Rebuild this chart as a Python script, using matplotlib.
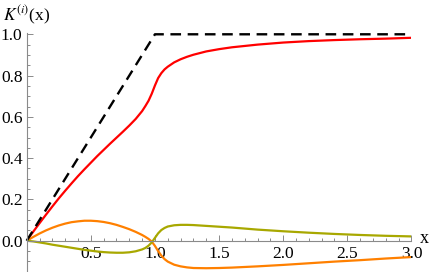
import matplotlib
matplotlib.use('Agg')
import matplotlib.pyplot as plt
from matplotlib.ticker import MultipleLocator, FixedLocator

plt.rcParams['font.family'] = 'Liberation Serif'
plt.rcParams['mathtext.fontset'] = 'stix'

# sample points
xs = [0, 0.05, 0.1, 0.15, 0.2, 0.25, 0.3, 0.35, 0.4, 0.45, 0.5, 0.55, 0.6, 0.65,
      0.7, 0.75, 0.8, 0.85, 0.9, 0.925, 0.95, 0.975, 1.0, 1.025, 1.05, 1.075, 1.1,
      1.15, 1.2, 1.25, 1.3, 1.4, 1.5, 1.6, 1.8, 2.0, 2.2, 2.4, 2.6, 2.8, 3.0]
k_red = [0, 0.043, 0.085, 0.126, 0.166, 0.205, 0.242, 0.278, 0.313, 0.346, 0.378,
         0.41, 0.44, 0.47, 0.499, 0.528, 0.558, 0.59, 0.628, 0.652, 0.678, 0.712,
         0.752, 0.788, 0.812, 0.83, 0.843, 0.864, 0.879, 0.891, 0.901, 0.917, 0.928,
         0.937, 0.95, 0.96, 0.967, 0.972, 0.976, 0.979, 0.983]
k_orange = [0, 0.018, 0.035, 0.05, 0.063, 0.074, 0.083, 0.09, 0.094, 0.097, 0.097,
            0.095, 0.091, 0.085, 0.077, 0.067, 0.056, 0.043, 0.028, 0.019, 0.009,
            -0.004, -0.025, -0.05, -0.072, -0.089, -0.101, -0.116, -0.124, -0.129,
            -0.132, -0.133, -0.132, -0.13, -0.124, -0.117, -0.109, -0.101, -0.094,
            -0.086, -0.079]
k_olive = [0, -0.003, -0.008, -0.013, -0.019, -0.024, -0.029, -0.034, -0.039, -0.044,
           -0.048, -0.052, -0.055, -0.057, -0.058, -0.058, -0.056, -0.051, -0.042,
           -0.035, -0.024, -0.008, 0.014, 0.036, 0.052, 0.062, 0.069, 0.075, 0.077,
           0.077, 0.076, 0.072, 0.068, 0.064, 0.054, 0.046, 0.039, 0.033, 0.028,
           0.024, 0.021]
free_x = [0, 1, 3]
free_y = [0, 1, 1]

fig = plt.figure(figsize=(4.36, 2.72), dpi=100)
ax = fig.add_axes([0.0612, 0.0048, 0.8825, 0.8752])

ax.plot(xs, k_red, color='#ff0000', lw=1.6)
ax.plot(xs, k_orange, color='#ff8000', lw=1.6)
ax.plot(xs, k_olive, color='#a8a800', lw=1.6)
ax.plot(free_x, free_y, color='black', lw=1.7, dashes=(4.5, 2.8), clip_on=False)

ax.set_xlim(0, 3)
ax.set_ylim(-0.145, 1.008)

for s in ['top', 'right']:
    ax.spines[s].set_visible(False)
ax.spines['bottom'].set_position(('data', 0))
for s in ['left', 'bottom']:
    ax.spines[s].set_color('#8a8a8a')
    ax.spines[s].set_linewidth(0.8)

ax.xaxis.set_major_locator(FixedLocator([0.5, 1.0, 1.5, 2.0, 2.5, 3.0]))
ax.xaxis.set_minor_locator(MultipleLocator(0.1))
ax.yaxis.set_major_locator(FixedLocator([0.0, 0.2, 0.4, 0.6, 0.8, 1.0]))
ax.yaxis.set_minor_locator(MultipleLocator(0.05))
ax.xaxis.set_major_formatter(plt.FuncFormatter(lambda v, p: f'{v:.1f}'))
ax.yaxis.set_major_formatter(plt.FuncFormatter(lambda v, p: f'{v:.1f}'))

ax.tick_params(which='both', direction='in', color='#8a8a8a', width=0.7,
               labelsize=12.5, labelcolor='black')
ax.tick_params(which='major', length=4.5)
ax.tick_params(which='minor', length=2.5)
ax.tick_params(axis='x', pad=4)
ax.tick_params(axis='y', pad=3)

fig.text(0.963, 0.122, 'x', fontsize=13, ha='left', va='center')
fig.text(0.008, 0.945, r'$K^{(i)}$(x)', fontsize=12.5, ha='left', va='center')

fig.savefig('out.png', dpi=100)
